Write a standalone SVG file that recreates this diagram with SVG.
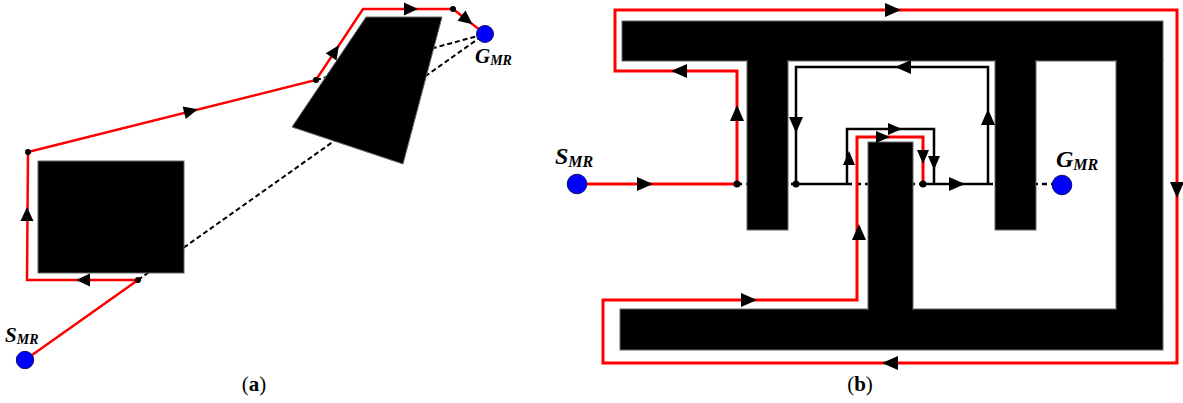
<svg xmlns="http://www.w3.org/2000/svg" xmlns:xlink="http://www.w3.org/1999/xlink" width="1183" height="403" viewBox="0 0 1183 403">
  <style>
    .obs { fill: #000; stroke: #666; stroke-width: 1; }
    .red-a { fill: none; stroke: #ff0000; stroke-width: 2.5; stroke-linejoin: miter; }
    .red-b { fill: none; stroke: #ff0000; stroke-width: 3; stroke-linejoin: miter; }
    .blk-b { fill: none; stroke: #000; stroke-width: 2.5; stroke-linejoin: miter; }
    .dash-a { fill: none; stroke: #000; stroke-width: 2; stroke-dasharray: 5 3; }
    .dash-b { fill: none; stroke: #000; stroke-width: 2.5; stroke-dasharray: 5 4; }
    .dot { fill: #000; }
    .pt { fill: #0000ff; stroke: #10106a; stroke-width: 1; }
    .lbl { font-family: "Liberation Serif", "Times New Roman", serif; font-weight: bold; font-style: italic; fill: #000; }
    .cap { font-family: "Liberation Serif", "Times New Roman", serif; font-size: 21px; fill: #000; text-anchor: middle; }
  </style>
  <defs>
    <path id="arrA" d="M-7,-6.5 L7,0 L-7,6.5 Z" fill="#000"/>
    <path id="arrB" d="M-8,-7 L8,0 L-8,7 Z" fill="#000"/>
    <path id="arrC" d="M-7,-6 L7,0 L-7,6 Z" fill="#000"/>
  </defs>

  <!-- ===== Panel (a) ===== -->
  <g id="a-connectors">
    <path class="dash-a" d="M138,280 L485,34"/>
    <path class="dash-a" d="M316,80 L485,34"/>
  </g>
  <g id="a-obstacle-rect">
    <rect class="obs" x="38" y="161" width="146" height="112"/>
  </g>
  <g id="a-obstacle-quad">
    <polygon class="obs" points="366,17 442,17 403,164 292,127"/>
  </g>
  <g id="a-path">
    <path class="red-a" d="M25,360 L138,280 L27,280 L28,152 L316,80 L363,9 L453,9 L485,34"/>
    <use xlink:href="#arrA" transform="translate(83,280) rotate(180)"/>
    <use xlink:href="#arrA" transform="translate(27,214) rotate(-90)"/>
    <use xlink:href="#arrA" transform="translate(191,111) rotate(-14)"/>
    <use xlink:href="#arrA" transform="translate(335,51) rotate(-56.5)"/>
    <use xlink:href="#arrA" transform="translate(411,9)"/>
    <use xlink:href="#arrA" transform="translate(467,20) rotate(38)"/>
    <circle class="dot" cx="138" cy="280" r="3"/>
    <circle class="dot" cx="28" cy="152" r="3"/>
    <circle class="dot" cx="316" cy="80" r="3"/>
    <circle class="dot" cx="453" cy="9" r="3"/>
  </g>
  <g id="a-start">
    <circle class="pt" cx="25" cy="360" r="8.7"/>
    <text class="lbl" x="5" y="342" font-size="21">S<tspan font-size="14" dy="2">MR</tspan></text>
  </g>
  <g id="a-goal">
    <circle class="pt" cx="485" cy="34" r="8.5"/>
    <text class="lbl" x="475" y="63" font-size="21">G<tspan font-size="14" dy="2">MR</tspan></text>
  </g>
  <text id="a-caption" class="cap" x="254" y="391">(<tspan font-weight="bold">a</tspan>)</text>

  <!-- ===== Panel (b) ===== -->
  <g id="b-connectors">
    <path class="dash-b" d="M737,184 L796,184"/>
    <path class="dash-b" d="M847,184 L923,184"/>
    <path class="dash-b" d="M988,184 L1053,184"/>
  </g>
  <g id="b-obstacles">
    <g id="b-wall-top"><rect class="obs" x="622" y="21" width="541" height="40"/></g>
    <g id="b-wall-left-stem"><rect class="obs" x="747" y="60" width="41" height="170"/></g>
    <g id="b-wall-right-stem"><rect class="obs" x="995" y="60" width="41" height="170"/></g>
    <g id="b-wall-right"><rect class="obs" x="1116" y="60" width="47" height="250"/></g>
    <g id="b-wall-bottom"><rect class="obs" x="620" y="309" width="543" height="41"/></g>
    <g id="b-wall-center"><rect class="obs" x="868" y="142" width="45" height="168"/></g>
    <!-- cover internal seams between joined walls -->
    <rect x="623" y="22" width="539" height="38" fill="#000"/>
    <rect x="748" y="40" width="39" height="189" fill="#000"/>
    <rect x="996" y="40" width="39" height="189" fill="#000"/>
    <rect x="1117" y="40" width="45" height="309" fill="#000"/>
    <rect x="621" y="310" width="541" height="39" fill="#000"/>
    <rect x="869" y="143" width="43" height="206" fill="#000"/>
  </g>
  <g id="b-search">
    <path class="blk-b" d="M988,184 L988,67 L796,67 L796,184"/>
    <path class="blk-b" d="M847,184 L847,129 L934,129 L934,184"/>
    <path class="blk-b" d="M796,184 L847,184"/>
    <path class="blk-b" d="M923,184 L988,184"/>
    <use xlink:href="#arrB" transform="translate(903,67) rotate(180)"/>
    <use xlink:href="#arrB" transform="translate(988,117) rotate(-90)"/>
    <use xlink:href="#arrB" transform="translate(796,125) rotate(90)"/>
    <use xlink:href="#arrC" transform="translate(849,158) rotate(-90)"/>
    <use xlink:href="#arrC" transform="translate(895,129)"/>
    <use xlink:href="#arrC" transform="translate(934,163) rotate(90)"/>
    <use xlink:href="#arrB" transform="translate(957,184)"/>
  </g>
  <g id="b-path">
    <path class="red-b" d="M577,184 L737,184 L737,71 L615,71 L615,10 L1177,10 L1177,363 L603,363 L603,300 L857,300 L857,137 L923,137 L923,184"/>
    <use xlink:href="#arrB" transform="translate(645,184)"/>
    <use xlink:href="#arrB" transform="translate(737,113) rotate(-90)"/>
    <use xlink:href="#arrB" transform="translate(679,71) rotate(180)"/>
    <use xlink:href="#arrB" transform="translate(893,10)"/>
    <use xlink:href="#arrB" transform="translate(1177,190) rotate(90)"/>
    <use xlink:href="#arrB" transform="translate(890,363) rotate(180)"/>
    <use xlink:href="#arrB" transform="translate(749,300)"/>
    <use xlink:href="#arrB" transform="translate(859,232) rotate(-90)"/>
    <use xlink:href="#arrC" transform="translate(883,137)"/>
    <use xlink:href="#arrC" transform="translate(923,157) rotate(90)"/>
    <circle class="dot" cx="737" cy="184" r="3.5"/>
    <circle class="dot" cx="796" cy="184" r="3.5"/>
    <circle class="dot" cx="923" cy="184" r="3.5"/>
  </g>
  <g id="b-start">
    <circle class="pt" cx="577" cy="184" r="9.8"/>
    <text class="lbl" x="555" y="164" font-size="24">S<tspan font-size="16" dy="3">MR</tspan></text>
  </g>
  <g id="b-goal">
    <circle class="pt" cx="1062" cy="185" r="9.8"/>
    <text class="lbl" x="1056" y="167" font-size="24">G<tspan font-size="16" dy="3">MR</tspan></text>
  </g>
  <text id="b-caption" class="cap" x="860" y="391">(<tspan font-weight="bold">b</tspan>)</text>
</svg>
